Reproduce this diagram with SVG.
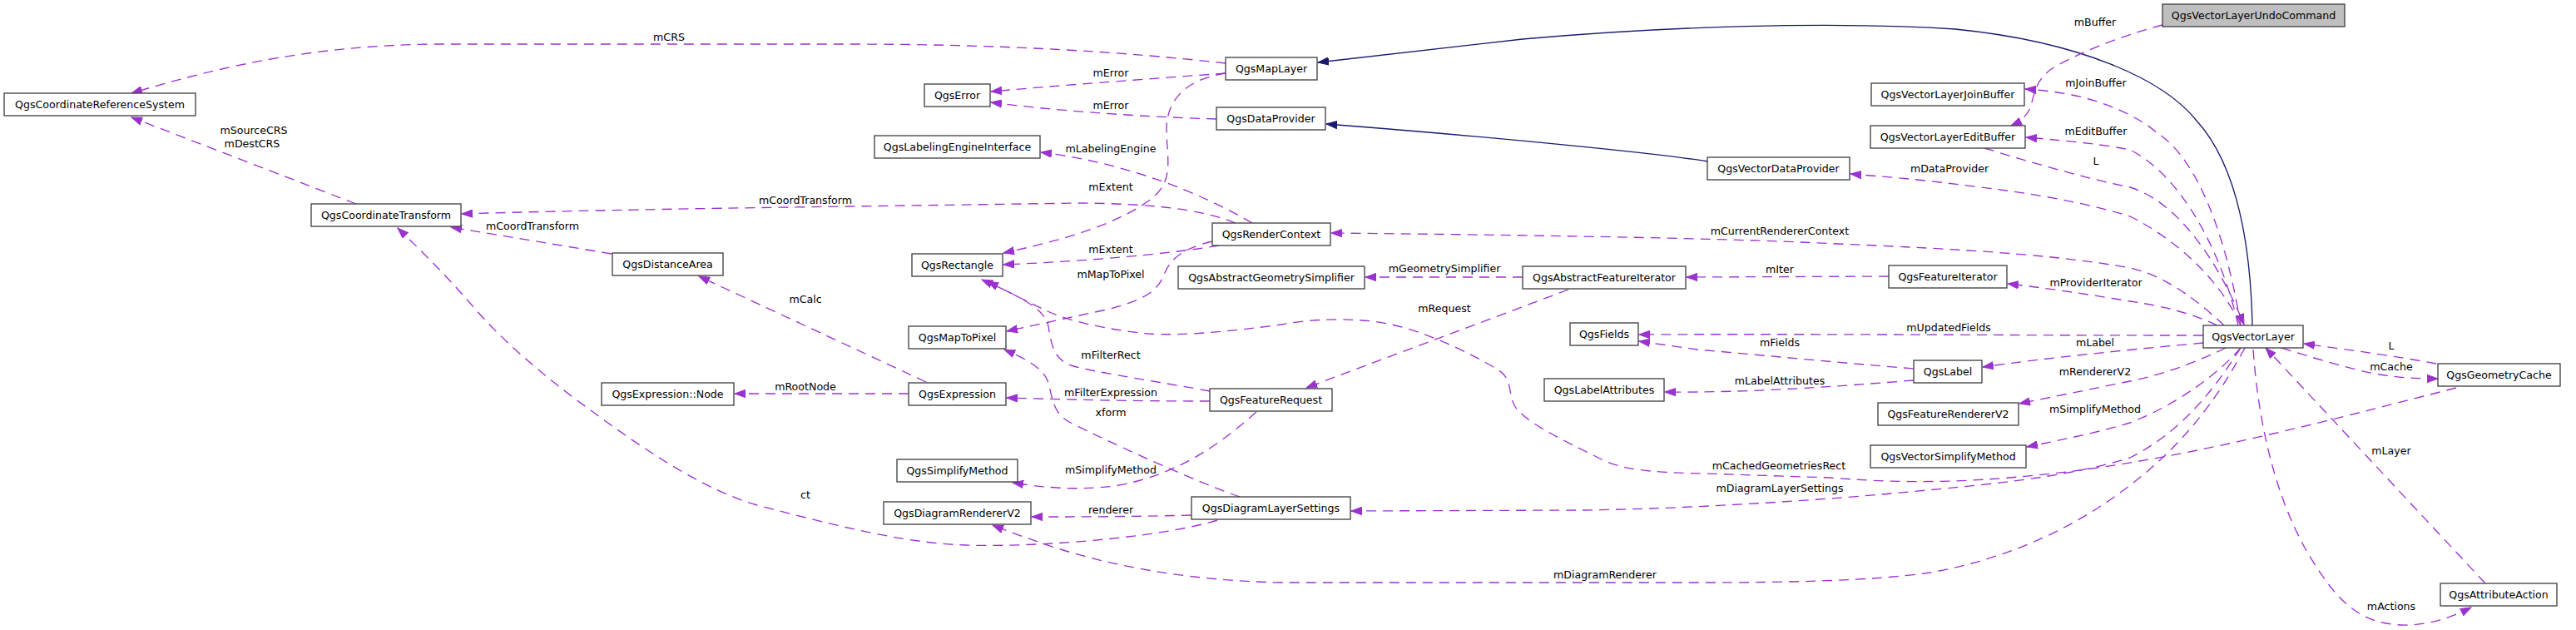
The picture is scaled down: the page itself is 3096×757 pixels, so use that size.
<svg xmlns="http://www.w3.org/2000/svg" width="3096" height="757" viewBox="0 0 3096 757">
<style>
.node rect{fill:#fff;stroke:#404040;stroke-width:1.33}
.node.main rect{fill:#bfbfbf}
text{font-family:"DejaVu Sans","Liberation Sans",sans-serif;font-size:12.6px;text-anchor:middle;fill:#000}
.e{fill:none;stroke:#9a32cd;stroke-width:1.33;stroke-dasharray:12,8;marker-end:url(#ap)}
.i{fill:none;stroke:#191970;stroke-width:1.33;marker-end:url(#an)}
</style>
<defs>
<marker id="ap" markerUnits="userSpaceOnUse" markerWidth="14" markerHeight="10" refX="13" refY="5" orient="auto" viewBox="0 0 14 10"><path d="M0,0.3 L13,5 L0,9.7z" fill="#9a32cd" stroke="#9a32cd" stroke-width="1"/></marker>
<marker id="an" markerUnits="userSpaceOnUse" markerWidth="14" markerHeight="10" refX="13" refY="5" orient="auto" viewBox="0 0 14 10"><path d="M0,0.3 L13,5 L0,9.7z" fill="#191970" stroke="#191970" stroke-width="1"/></marker>
</defs>
<rect width="3096" height="757" fill="#fff"/>
<g id="edges">
<path class="i" d="M2707,391 C2705,300 2690,200 2640,145 C2600,95 2500,50 2350,35 C2200,25 2000,32 1830,47 L1584,75"/>
<path class="i" d="M2052,194 C2000,185 1800,165 1594,149"/>
<path class="e" d="M1473,76 C1350,62 1200,53 1020,53 L520,53 C380,55 270,78 158,112"/>
<path class="e" d="M428,245 L158,141"/>
<path class="e" d="M1473,88 C1380,95 1280,102 1191,110"/>
<path class="e" d="M1462,143 C1360,140 1260,132 1191,123"/>
<path class="e" d="M1505,268 C1440,230 1350,195 1251,183"/>
<path class="e" d="M1473,88 C1420,96 1402,125 1402,155 C1402,190 1412,215 1385,238 C1340,272 1270,290 1206,304"/>
<path class="e" d="M1485,268 C1440,250 1380,245 1300,244 L1020,248 C800,251 650,254 555,257"/>
<path class="e" d="M735,305 L542,273"/>
<path class="e" d="M1465,295 C1400,306 1300,314 1206,318"/>
<path class="e" d="M1457,290 C1415,300 1405,315 1398,332 C1390,352 1370,362 1330,372 L1210,398"/>
<path class="e" d="M1454,470 C1400,460 1320,448 1290,440 C1265,433 1263,410 1260,392 C1256,372 1230,358 1180,336"/>
<path class="e" d="M1830,333 L1641,333"/>
<path class="e" d="M2270,332 L2027,333"/>
<path class="e" d="M1885,348 L1570,466"/>
<path class="e" d="M1454,482 C1350,482 1280,480 1210,478"/>
<path class="e" d="M1092,473 L883,473"/>
<path class="e" d="M1113,459 L840,332"/>
<path class="e" d="M1490,597 C1440,580 1330,530 1285,507 C1262,495 1265,470 1258,455 C1250,440 1230,430 1207,420"/>
<path class="e" d="M1510,495 C1470,530 1420,570 1340,584 C1290,590 1250,585 1217,580"/>
<path class="e" d="M1432,619 C1350,621 1300,621 1240,621"/>
<path class="e" d="M1463,625 C1400,645 1250,658 1160,655 C1080,652 1000,630 910,607 C850,590 780,545 710,493 C650,450 600,405 570,370 C540,335 510,305 478,274"/>
<path class="e" d="M2698,418 C2670,470 2630,530 2560,583 C2500,630 2420,670 2320,688 C2250,698 2150,700 2040,700 L1540,700 C1440,698 1340,683 1253,653 C1230,645 1210,638 1193,631"/>
<path class="e" d="M2693,418 C2660,470 2620,520 2560,550 C2480,575 2380,583 2273,593 C2150,604 2000,612 1900,613 L1624,614"/>
<path class="e" d="M2693,418 C2670,445 2620,485 2560,508 C2520,520 2480,528 2436,537"/>
<path class="e" d="M2675,418 C2640,435 2600,450 2560,458 L2427,485"/>
<path class="e" d="M2648,412 C2560,420 2460,430 2383,441"/>
<path class="e" d="M2648,403 C2400,403 2200,401 1970,402"/>
<path class="e" d="M2300,443 C2200,435 2100,425 2040,420 L1970,410"/>
<path class="e" d="M2300,457 C2200,465 2100,472 2001,471"/>
<path class="e" d="M2928,437 C2880,428 2820,420 2769,413"/>
<path class="e" d="M2742,418 C2780,430 2830,445 2860,450 C2885,454 2905,455 2930,455"/>
<path class="e" d="M2987,701 L2723,418"/>
<path class="e" d="M2708,420 C2715,520 2740,620 2790,690 C2820,735 2850,752 2895,751 C2925,750 2950,740 2970,730"/>
<path class="e" d="M2952,466 C2800,505 2650,545 2500,565 C2380,580 2300,582 2200,574 L2050,569 C1990,568 1950,565 1925,552 C1870,525 1830,505 1820,487 C1812,470 1818,455 1800,444 C1760,420 1700,392 1650,386 C1600,381 1560,386 1540,390 C1480,398 1420,404 1380,401 C1330,396 1280,385 1255,372 C1230,360 1210,350 1187,338"/>
<path class="e" d="M2673,391 C2640,360 2600,330 2560,322 C2450,302 2300,297 2140,290 C2000,285 1800,282 1600,280"/>
<path class="e" d="M2665,391 C2630,375 2600,368 2560,362 C2500,352 2450,345 2413,341"/>
<path class="e" d="M2693,391 C2670,340 2620,290 2560,260 C2480,235 2380,225 2340,220 C2300,215 2260,212 2224,209"/>
<path class="e" d="M2385,178 C2440,195 2510,215 2560,225 C2610,240 2660,300 2697,390"/>
<path class="e" d="M2690,391 C2670,300 2620,210 2560,180 C2520,172 2470,168 2435,165"/>
<path class="e" d="M2693,391 C2675,280 2640,190 2593,160 C2570,140 2530,122 2490,114 C2470,110 2450,108 2434,107"/>
<path class="e" d="M2599,30 C2560,40 2510,58 2470,80 C2445,95 2445,115 2440,130 C2435,140 2428,146 2417,151"/>
</g>
<g id="edge-labels">
<text x="804" y="49">mCRS</text>
<text x="305" y="161">mSourceCRS</text>
<text x="303" y="177">mDestCRS</text>
<text x="968" y="245">mCoordTransform</text>
<text x="640" y="276">mCoordTransform</text>
<text x="968" y="364">mCalc</text>
<text x="1335" y="92">mError</text>
<text x="1335" y="131">mError</text>
<text x="1335" y="183">mLabelingEngine</text>
<text x="1335" y="229">mExtent</text>
<text x="1335" y="304">mExtent</text>
<text x="1335" y="334">mMapToPixel</text>
<text x="1736" y="327">mGeometrySimplifier</text>
<text x="1736" y="375">mRequest</text>
<text x="2518" y="31">mBuffer</text>
<text x="2519" y="104">mJoinBuffer</text>
<text x="2519" y="162">mEditBuffer</text>
<text x="2519" y="198">L</text>
<text x="2343" y="207">mDataProvider</text>
<text x="2139" y="282">mCurrentRendererContext</text>
<text x="2139" y="328">mIter</text>
<text x="2519" y="344">mProviderIterator</text>
<text x="968" y="469">mRootNode</text>
<text x="968" y="599">ct</text>
<text x="1335" y="431">mFilterRect</text>
<text x="1335" y="476">mFilterExpression</text>
<text x="1335" y="500">xform</text>
<text x="1335" y="569">mSimplifyMethod</text>
<text x="1335" y="617">renderer</text>
<text x="1929" y="695">mDiagramRenderer</text>
<text x="2342" y="398">mUpdatedFields</text>
<text x="2139" y="416">mFields</text>
<text x="2518" y="416">mLabel</text>
<text x="2139" y="462">mLabelAttributes</text>
<text x="2518" y="451">mRendererV2</text>
<text x="2518" y="496">mSimplifyMethod</text>
<text x="2138" y="564">mCachedGeometriesRect</text>
<text x="2139" y="591">mDiagramLayerSettings</text>
<text x="2874" y="420">L</text>
<text x="2874" y="445">mCache</text>
<text x="2874" y="546">mLayer</text>
<text x="2874" y="733">mActions</text>
</g>
<g id="n_crs" class="node"><rect x="5" y="112" width="230" height="27"/><text x="120" y="130">QgsCoordinateReferenceSystem</text></g>
<g id="n_ct" class="node"><rect x="374" y="245" width="180" height="27"/><text x="464" y="263">QgsCoordinateTransform</text></g>
<g id="n_da" class="node"><rect x="736" y="304" width="133" height="27"/><text x="802.5" y="322">QgsDistanceArea</text></g>
<g id="n_node" class="node"><rect x="723" y="460" width="159" height="27"/><text x="802.5" y="478">QgsExpression::Node</text></g>
<g id="n_err" class="node"><rect x="1111" y="101" width="79" height="27"/><text x="1150.5" y="119">QgsError</text></g>
<g id="n_lei" class="node"><rect x="1051" y="163" width="199" height="27"/><text x="1150.5" y="181">QgsLabelingEngineInterface</text></g>
<g id="n_rect" class="node"><rect x="1096" y="305" width="109" height="27"/><text x="1150.5" y="323">QgsRectangle</text></g>
<g id="n_m2p" class="node"><rect x="1092" y="392" width="117" height="27"/><text x="1150.5" y="410">QgsMapToPixel</text></g>
<g id="n_expr" class="node"><rect x="1092" y="460" width="117" height="27"/><text x="1150.5" y="478">QgsExpression</text></g>
<g id="n_sm" class="node"><rect x="1078" y="552" width="145" height="27"/><text x="1150.5" y="570">QgsSimplifyMethod</text></g>
<g id="n_drv2" class="node"><rect x="1062" y="603" width="177" height="27"/><text x="1150.5" y="621">QgsDiagramRendererV2</text></g>
<g id="n_ml" class="node"><rect x="1473" y="69" width="110" height="27"/><text x="1528" y="87">QgsMapLayer</text></g>
<g id="n_dp" class="node"><rect x="1462" y="129" width="131" height="27"/><text x="1527.5" y="147">QgsDataProvider</text></g>
<g id="n_rc" class="node"><rect x="1457" y="268" width="142" height="27"/><text x="1528" y="286">QgsRenderContext</text></g>
<g id="n_ags" class="node"><rect x="1416" y="320" width="224" height="27"/><text x="1528" y="338">QgsAbstractGeometrySimplifier</text></g>
<g id="n_fr" class="node"><rect x="1454" y="467" width="147" height="27"/><text x="1527.5" y="485">QgsFeatureRequest</text></g>
<g id="n_dls" class="node"><rect x="1432" y="597" width="191" height="27"/><text x="1527.5" y="615">QgsDiagramLayerSettings</text></g>
<g id="n_afi" class="node"><rect x="1830" y="320" width="196" height="27"/><text x="1928" y="338">QgsAbstractFeatureIterator</text></g>
<g id="n_fields" class="node"><rect x="1887" y="388" width="82" height="27"/><text x="1928" y="406">QgsFields</text></g>
<g id="n_la" class="node"><rect x="1856" y="455" width="144" height="27"/><text x="1928" y="473">QgsLabelAttributes</text></g>
<g id="n_vdp" class="node"><rect x="2052" y="189" width="171" height="27"/><text x="2137.5" y="207">QgsVectorDataProvider</text></g>
<g id="n_jb" class="node"><rect x="2249" y="100" width="184" height="27"/><text x="2341" y="118">QgsVectorLayerJoinBuffer</text></g>
<g id="n_eb" class="node"><rect x="2248" y="151" width="186" height="27"/><text x="2341" y="169">QgsVectorLayerEditBuffer</text></g>
<g id="n_fi" class="node"><rect x="2270" y="319" width="142" height="27"/><text x="2341" y="337">QgsFeatureIterator</text></g>
<g id="n_label" class="node"><rect x="2300" y="433" width="82" height="27"/><text x="2341" y="451">QgsLabel</text></g>
<g id="n_frv2" class="node"><rect x="2257" y="484" width="169" height="27"/><text x="2341.5" y="502">QgsFeatureRendererV2</text></g>
<g id="n_vsm" class="node"><rect x="2248" y="535" width="187" height="27"/><text x="2341.5" y="553">QgsVectorSimplifyMethod</text></g>
<g id="n_undo" class="node main"><rect x="2599" y="5" width="219" height="27"/><text x="2708.5" y="23">QgsVectorLayerUndoCommand</text></g>
<g id="n_vl" class="node"><rect x="2648" y="391" width="120" height="27"/><text x="2708" y="409">QgsVectorLayer</text></g>
<g id="n_gc" class="node"><rect x="2930" y="437" width="147" height="27"/><text x="3003.5" y="455">QgsGeometryCache</text></g>
<g id="n_aa" class="node"><rect x="2933" y="701" width="140" height="27"/><text x="3003" y="719">QgsAttributeAction</text></g>
</svg>
